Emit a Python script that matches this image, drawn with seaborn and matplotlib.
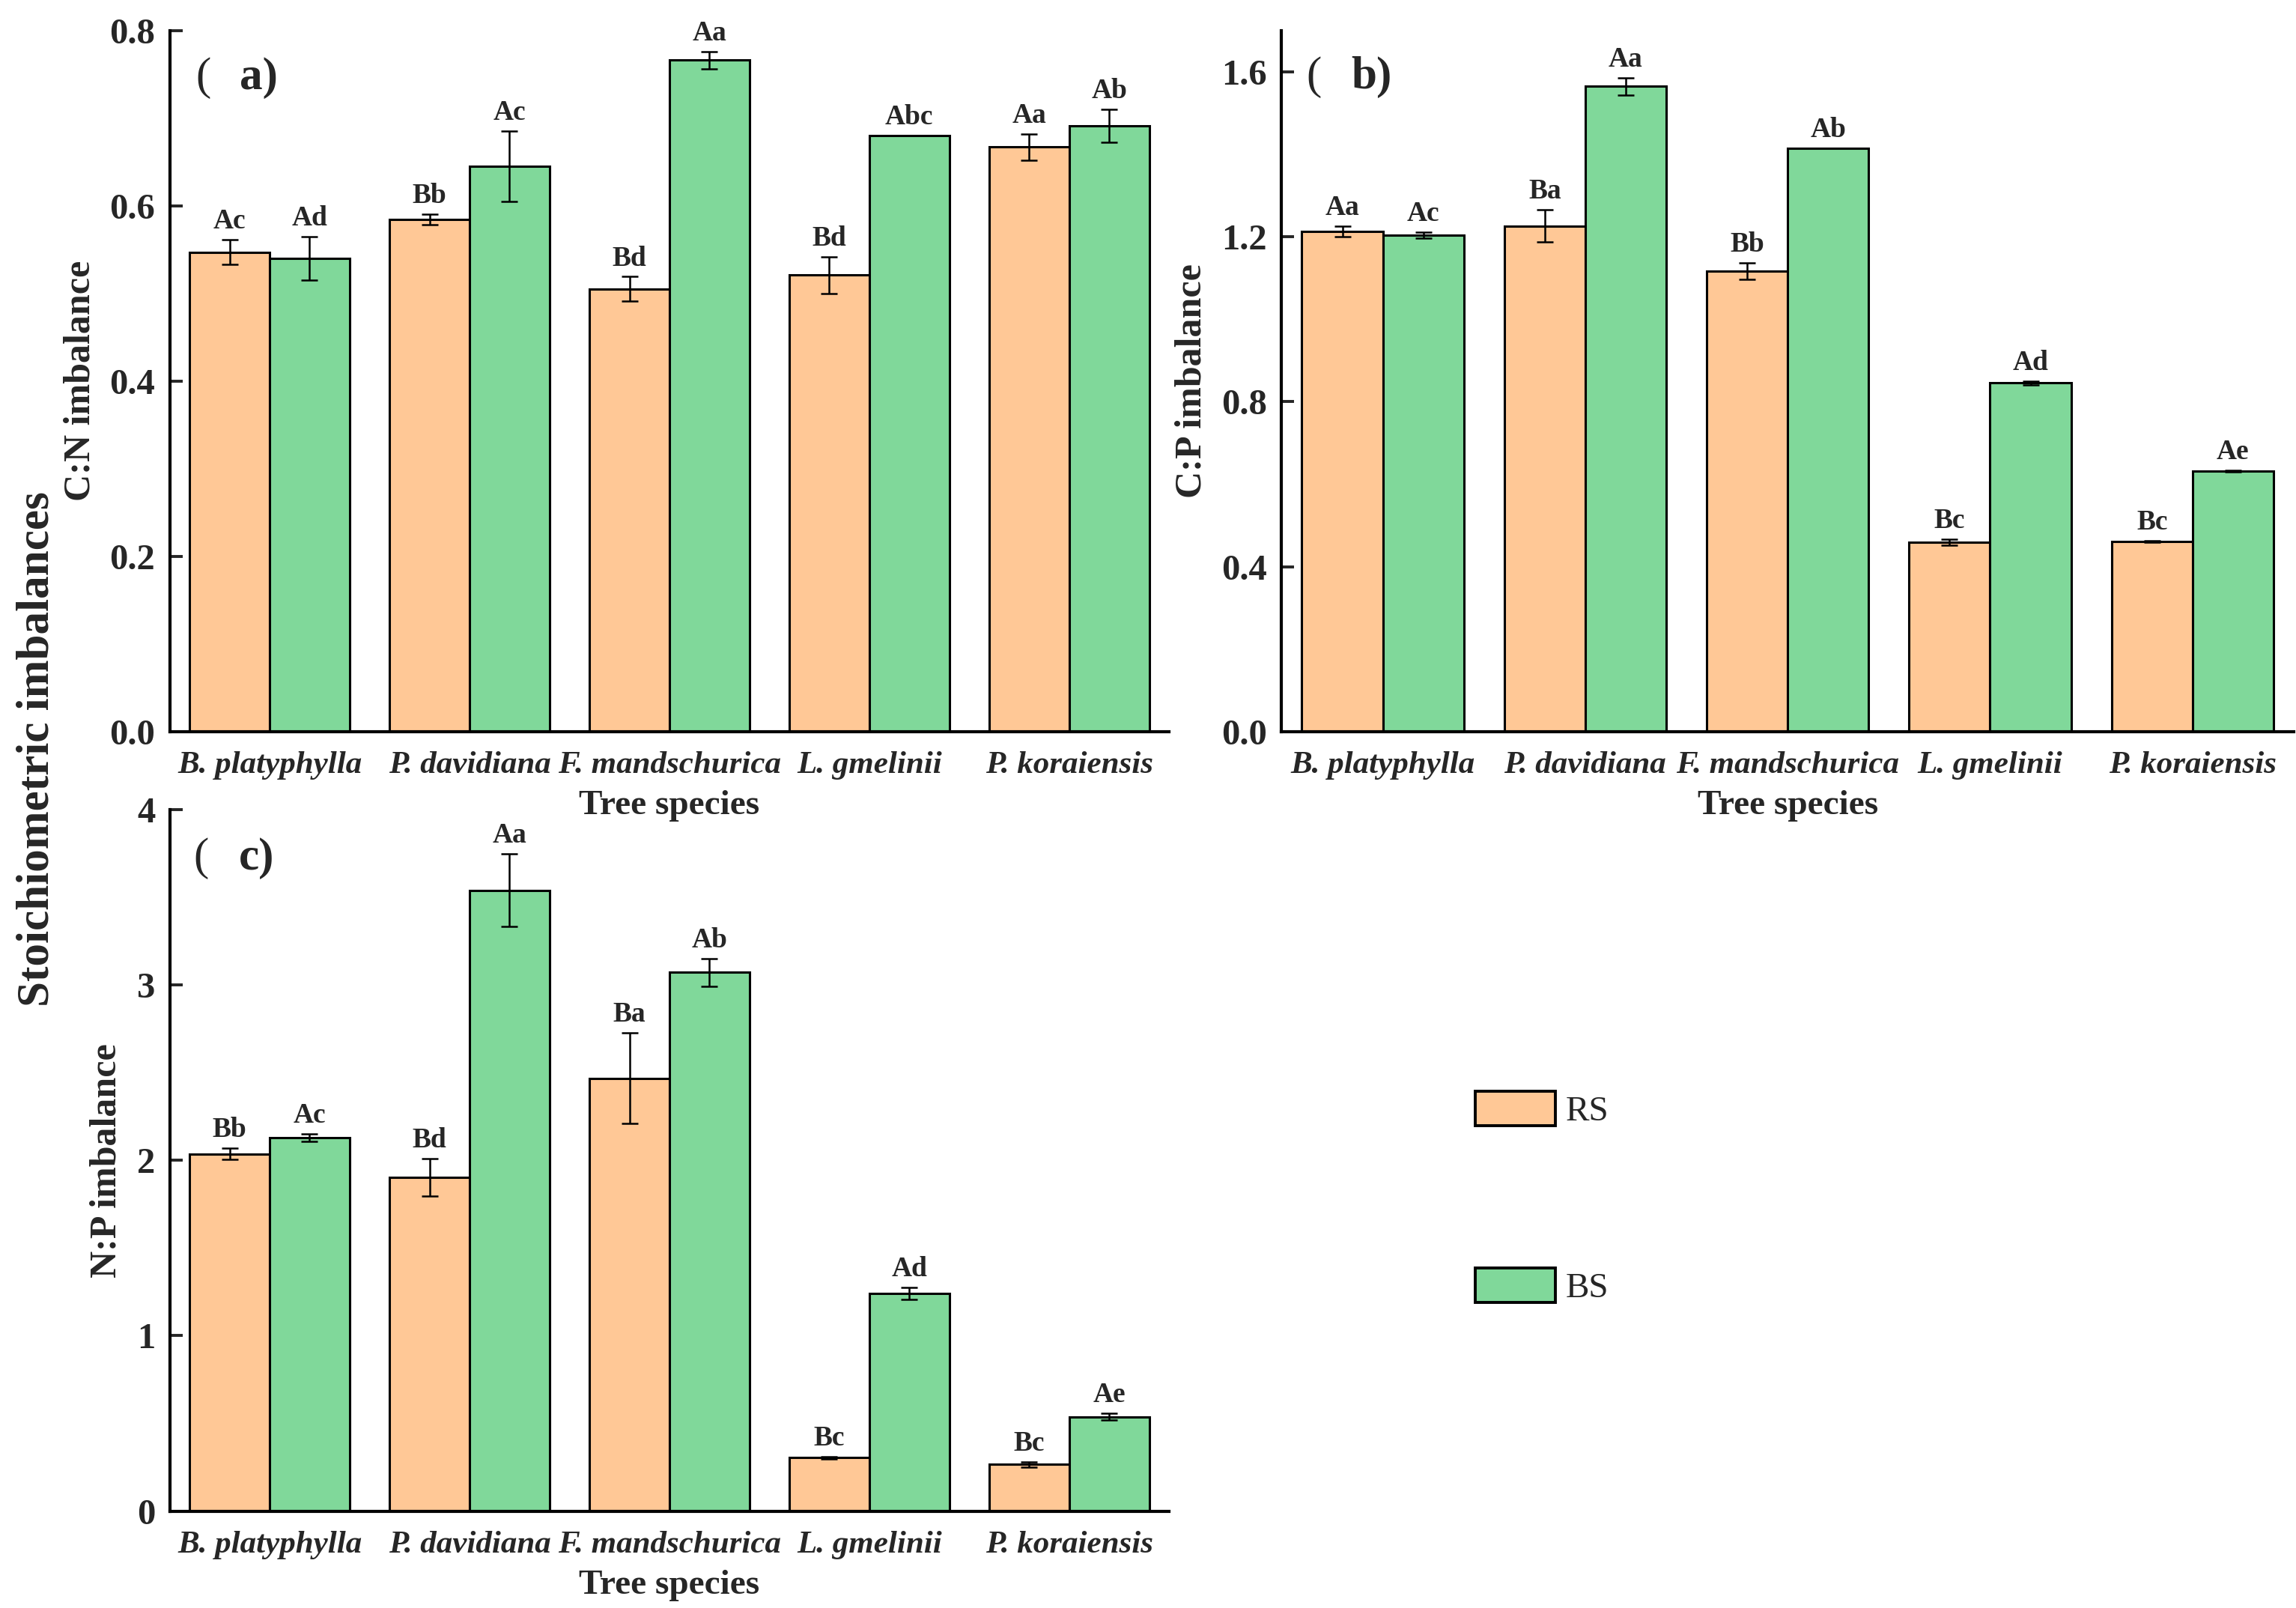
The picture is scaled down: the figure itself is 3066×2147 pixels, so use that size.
"""Stoichiometric imbalances of RS and BS soils across five tree species."""

import matplotlib.pyplot as plt
import pandas as pd
import seaborn as sns
from matplotlib.patches import Patch

sns.set_theme(style="white")
plt.rcParams["font.family"] = ["Liberation Serif", "DejaVu Serif"]

# ---- data ----
species = ["B. platyphylla", "P. davidiana", "F. mandschurica", "L. gmelinii", "P. koraiensis"]
soils = ["RS", "BS"]

cn_rs = [0.547, 0.584, 0.505, 0.521, 0.667]
cn_bs = [0.540, 0.645, 0.766, 0.680, 0.691]
cn_rs_err = [0.014, 0.006, 0.014, 0.021, 0.015]
cn_bs_err = [0.025, 0.040, 0.010, 0.0, 0.019]
cn_rs_lab = ["Ac", "Bb", "Bd", "Bd", "Aa"]
cn_bs_lab = ["Ad", "Ac", "Aa", "Abc", "Ab"]

cp_rs = [1.213, 1.226, 1.116, 0.459, 0.461]
cp_bs = [1.204, 1.564, 1.414, 0.845, 0.632]
cp_rs_err = [0.013, 0.039, 0.020, 0.008, 0.001]
cp_bs_err = [0.007, 0.021, 0.0, 0.005, 0.002]
cp_rs_lab = ["Aa", "Ba", "Bb", "Bc", "Bc"]
cp_bs_lab = ["Ac", "Aa", "Ab", "Ad", "Ae"]

np_rs = [2.037, 1.903, 2.468, 0.305, 0.266]
np_bs = [2.130, 3.540, 3.071, 1.240, 0.538]
np_rs_err = [0.033, 0.108, 0.257, 0.006, 0.015]
np_bs_err = [0.021, 0.209, 0.079, 0.033, 0.019]
np_rs_lab = ["Bb", "Bd", "Ba", "Bc", "Bc"]
np_bs_lab = ["Ac", "Aa", "Ab", "Ad", "Ae"]

colors = {"RS": "#FFC896", "BS": "#80D89A"}

fig = plt.figure(figsize=(15.33, 10.735), dpi=200)
ax_a = fig.add_axes([0.0739, 0.545, 0.4353, 0.4361])
ax_b = fig.add_axes([0.5582, 0.545, 0.4408, 0.4361])
ax_c = fig.add_axes([0.0739, 0.0603, 0.4353, 0.4363])


def draw_panel(ax, rs, bs, rs_err, bs_err, rs_lab, bs_lab, ylabel, ylim, yticks, fmt, tag, label_x):
    df = pd.DataFrame(
        {
            "Species": species * 2,
            "Soil": ["RS"] * len(species) + ["BS"] * len(species),
            "Value": rs + bs,
        }
    )
    sns.barplot(
        data=df, x="Species", y="Value", hue="Soil", hue_order=soils,
        palette=colors, saturation=1, errorbar=None, edgecolor="black",
        linewidth=1.1, width=0.8, legend=False, ax=ax,
    )
    for cont, errs, labs in zip(ax.containers, [rs_err, bs_err], [rs_lab, bs_lab]):
        for bar, e, lab in zip(cont, errs, labs):
            xc = bar.get_x() + bar.get_width() / 2
            top = bar.get_height()
            if e > 0:
                ax.errorbar(xc, top, yerr=e, fmt="none", ecolor="black",
                            elinewidth=0.9, capsize=4, capthick=0.9, zorder=5)
            ax.annotate(lab, (xc, top + e), xytext=(0, 2.5), textcoords="offset points",
                        ha="center", va="bottom", fontsize=13.5, fontweight="bold")

    ax.set_facecolor("none")
    ax.set_ylim(*ylim)
    ax.set_xlim(-0.5, len(species) - 0.5)
    ax.set_yticks(yticks)
    ax.set_yticklabels([fmt.format(t) for t in yticks], fontsize=17.5, fontweight="bold")
    ax.set_xticks(range(len(species)))
    ax.set_xticklabels(species, fontsize=15.5, fontstyle="italic", fontweight="bold")
    ax.set_xlabel("Tree species", fontsize=17, fontweight="bold", labelpad=5)
    ax.set_ylabel(ylabel, fontsize=18, fontweight="bold")
    ax.yaxis.set_label_coords(label_x, 0.5)
    ax.tick_params(axis="y", direction="in", length=6, width=1.4, pad=7, left=True)
    ax.tick_params(axis="x", length=0, pad=9.5)
    for side in ["top", "right"]:
        ax.spines[side].set_visible(False)
    for side in ["left", "bottom"]:
        ax.spines[side].set_linewidth(1.5)
        ax.spines[side].set_color("black")
    ax.text(tag[1], tag[2], "(", transform=ax.transAxes, fontsize=22,
            fontweight="normal", va="baseline", ha="left")
    ax.text(tag[3], tag[2], tag[0] + ")", transform=ax.transAxes, fontsize=22,
            fontweight="bold", va="baseline", ha="left")


draw_panel(ax_a, cn_rs, cn_bs, cn_rs_err, cn_bs_err, cn_rs_lab, cn_bs_lab,
           "C:N imbalance", (0, 0.8), [0.0, 0.2, 0.4, 0.6, 0.8], "{:.1f}",
           ("a", 0.026, 0.916, 0.070), -0.072)
draw_panel(ax_b, cp_rs, cp_bs, cp_rs_err, cp_bs_err, cp_rs_lab, cp_bs_lab,
           "C:P imbalance", (0, 1.7), [0.0, 0.4, 0.8, 1.2, 1.6], "{:.1f}",
           ("b", 0.024, 0.917, 0.069), -0.072)
draw_panel(ax_c, np_rs, np_bs, np_rs_err, np_bs_err, np_rs_lab, np_bs_lab,
           "N:P imbalance", (0, 4), [0, 1, 2, 3, 4], "{:d}",
           ("c", 0.024, 0.915, 0.069), -0.046)

fig.text(0.0163, 0.534, "Stoichiometric imbalances", rotation=90, ha="center", va="center",
         fontsize=22, fontweight="bold")

handles = [Patch(facecolor=colors[s], edgecolor="black", linewidth=1.4) for s in soils]
fig.legend(handles, soils, loc="upper left", bbox_to_anchor=(0.6425, 0.3214),
           frameon=False, fontsize=17, handlelength=2.26, handleheight=1.12,
           labelspacing=3.96, handletextpad=0.3, borderpad=0, borderaxespad=0)

fig.savefig("out.png", dpi=200)
